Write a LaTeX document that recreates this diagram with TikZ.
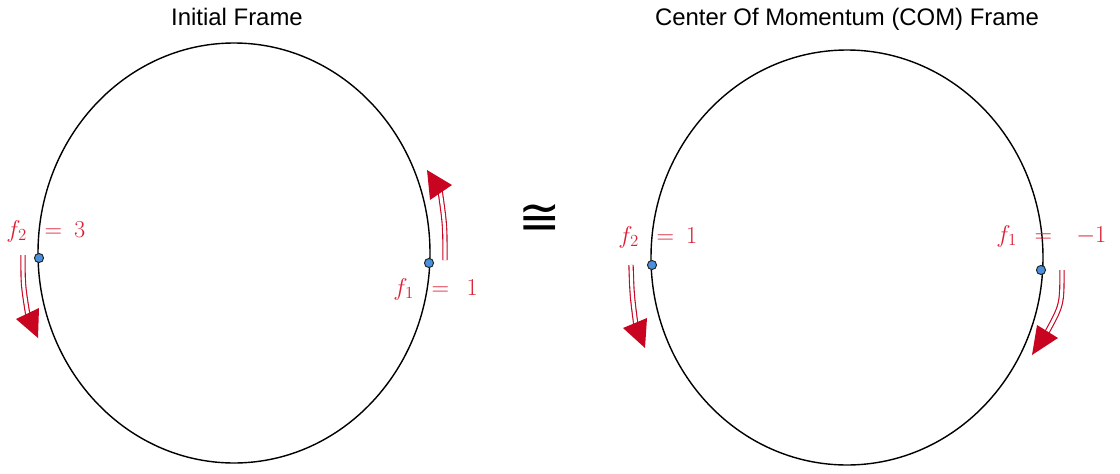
\documentclass[tikz,border=0pt]{standalone}
\usepackage{fontspec}
\setsansfont{Liberation Sans}
\newfontfamily\symbfont{DejaVu Sans}
\usepackage{tikz}
\usetikzlibrary{arrows.meta, positioning}
\definecolor{pfeilrot}{RGB}{200,4,32}
\definecolor{textrot}{RGB}{220,30,52}
\definecolor{punktblau}{RGB}{74,144,222}

\begin{document}
\begin{tikzpicture}[x=0.025cm, y=-0.025cm,
    rahmen/.style={line width=1pt},
    punkt/.style={circle, draw=black!85, fill=punktblau, line width=0.7pt, inner sep=0pt, minimum size=6.5pt},
    bahn/.style={draw=pfeilrot, double=white, line width=0.8pt, double distance=2.2pt},
    wert/.style={text=textrot, anchor=base west, inner sep=0pt, font=\fontsize{18.5}{21}\selectfont},
    titel/.style={anchor=base, inner sep=0pt, font=\sffamily\fontsize{17}{20}\selectfont}]
	\useasboundingbox (0,0) rectangle (1120,474);

	% Initial Frame
	\node[titel] (tA) at (237,25) {Initial Frame};
	\draw[rahmen] (234,253) ellipse (196 and 210);
	\node[punkt] (p2A) at (39,258) {};
	\node[punkt] (p1A) at (429,263) {};
	\node[wert] (f2A) at (6,237) {$f_2\;\,=\:3$};
	\node[wert] (f1A) at (393,295) {$f_1\;\,=\;\,1$};
	\draw[bahn] (23,255) .. controls (23,285) .. (28,316);
	\fill[pfeilrot] (38,338) -- (16,319) -- (39,308) -- cycle;
	\draw[bahn] (445,260) .. controls (445,225) .. (440,190);
	\fill[pfeilrot] (427,170) -- (452,185) -- (430,200) -- cycle;

	% kongruent
	\node[inner sep=0pt, font=\symbfont\fontsize{36}{40}\selectfont] (kong) at (540,219) {≅};

	% COM Frame
	\node[titel] (tB) at (847,25) {Center Of Momentum (COM) Frame};
	\draw[rahmen] (847,257.5) ellipse (196 and 207.5);
	\node[punkt] (p2B) at (652,265) {};
	\node[punkt] (p1B) at (1041,270) {};
	\node[wert] (f2B) at (618,243) {$f_2\;\,=\:1$};
	\node[wert] (f1B) at (996,242) {$f_1\;\,=\;\;\,-1$};
	\draw[bahn] (631,265) .. controls (632,295) .. (636,326);
	\fill[pfeilrot] (645,348) -- (623,328) -- (647,318) -- cycle;
	\draw[bahn] (1062,270) .. controls (1062,305) .. (1046,334);
	\fill[pfeilrot] (1032,355) -- (1037,325) -- (1058,338) -- cycle;
\end{tikzpicture}
\end{document}
